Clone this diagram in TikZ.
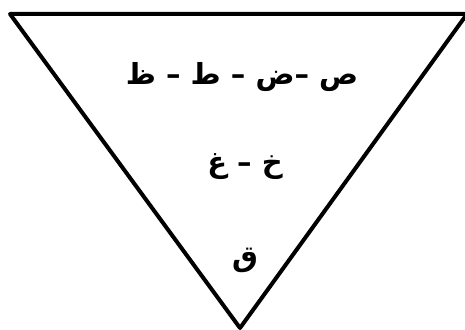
\documentclass[tikz,border=0pt]{standalone}
\usepackage{fontspec}
\newfontfamily\arabicfont[Script=Arabic]{DejaVu Sans}
\TeXXeTstate=1
\usepackage{tikz}
\usetikzlibrary{positioning}

\tikzset{
  letters/.style={font=\arabicfont\bfseries\fontsize{29}{34}\selectfont, inner sep=0pt}
}

\begin{document}
\begin{tikzpicture}[x=1pt, y=-1pt]
  \useasboundingbox (0,0) rectangle (465,329);
  % the inverted triangle
  \coordinate (tl) at (10,14);
  \coordinate (tr) at (467,14);
  \coordinate (apex) at (240,328);
  \draw[line width=4pt, line join=round] (tl) -- (tr) -- (apex) -- cycle;

  % letter groups
  \node[letters] (row1) at (242,77) {\beginR ص –ض – ط – ظ\endR};
  \node[letters] (row2) at (245,167) {\beginR خ – غ\endR};
  \node[letters] (row3) at (245,260) {\beginR ق\endR};
\end{tikzpicture}
\end{document}
